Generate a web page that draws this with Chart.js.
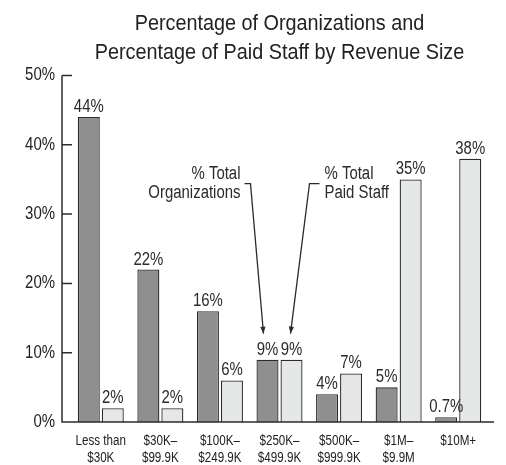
<!DOCTYPE html>
<html>
<head>
<meta charset="utf-8">
<script src="https://cdn.jsdelivr.net/npm/chart.js@4"></script>
<style>
  html, body { margin: 0; padding: 0; background: #fff; }
  #wrap { width: 506px; height: 465px; }
</style>
</head>
<body>
<div id="wrap"><canvas id="chart" width="506" height="465"></canvas></div>
<script>
const titleLines = ["Percentage of Organizations and", "Percentage of Paid Staff by Revenue Size"];
const categories = [
  ["Less than", "$30K"],
  ["$30K–", "$99.9K"],
  ["$100K–", "$249.9K"],
  ["$250K–", "$499.9K"],
  ["$500K–", "$999.9K"],
  ["$1M–", "$9.9M"],
  ["$10M+"]
];
const orgPct   = [44, 22, 16, 9, 4, 5, 0.7];
const staffPct = [2, 2, 6, 9, 7, 35, 38];
const orgLabels   = ["44%", "22%", "16%", "9%", "4%", "5%", "0.7%"];
const staffLabels = ["2%", "2%", "6%", "9%", "7%", "35%", "38%"];
const yTicks = [0, 10, 20, 30, 40, 50];
const seriesNames = ["% Total Organizations", "% Total Paid Staff"];

const FONT = "'Liberation Sans', Arial, sans-serif";
const INK = "#2b2b2b";

function byId(id){ return document.getElementById(id) }

// no narrow face installed -> squeeze Liberation Sans horizontally, like Arial Narrow
function narrowText(ctx) {
  const fill = ctx.fillText.bind(ctx);
  const measure = ctx.measureText.bind(ctx);
  const squeeze = () => (/2\dpx/.test(ctx.font) ? 0.9 : 0.83);
  ctx.fillText = (text, x, y, maxWidth) => {
    const k = squeeze();
    ctx.save();
    ctx.translate(x, y);
    ctx.scale(k, 1);
    if (maxWidth == null) fill(text, 0, 0);
    else fill(text, 0, 0, maxWidth / k);
    ctx.restore();
  };
  ctx.measureText = text => {
    const m = measure(text);
    const k = squeeze();
    return {
      width: m.width * k,
      actualBoundingBoxLeft: m.actualBoundingBoxLeft * k,
      actualBoundingBoxRight: m.actualBoundingBoxRight * k,
      actualBoundingBoxAscent: m.actualBoundingBoxAscent,
      actualBoundingBoxDescent: m.actualBoundingBoxDescent
    };
  };
}

// axis lines + ticks the old-school way, axis sits a bit left of the first bar
const axisPlugin = {
  id: "axes",
  afterDraw(c) {
    const ctx = c.ctx, a = c.chartArea, y = c.scales.y;
    const x0 = a.left - 9;
    ctx.save();
    ctx.strokeStyle = INK;
    ctx.lineWidth = 1.5;
    ctx.beginPath();
    ctx.moveTo(x0, y.getPixelForValue(yTicks[yTicks.length - 1]));
    ctx.lineTo(x0, a.bottom);
    ctx.lineTo(a.right + 6, a.bottom);
    yTicks.forEach(v => {
      const py = y.getPixelForValue(v);
      ctx.moveTo(x0, py);
      ctx.lineTo(x0 + 10, py);
    });
    ctx.stroke();
    ctx.restore();
  }
};

const valueLabels = {
  id: "valueLabels",
  afterDatasetsDraw(c) {
    const ctx = c.ctx;
    const texts = [orgLabels, staffLabels];
    ctx.save();
    ctx.font = `18px ${FONT}`;
    ctx.fillStyle = INK;
    ctx.textAlign = "center";
    ctx.textBaseline = "alphabetic";
    c.data.datasets.forEach((ds, i) => {
      c.getDatasetMeta(i).data.forEach((bar, j) => {
        ctx.fillText(texts[i][j], bar.x, bar.y - 5);
      });
    });
    ctx.restore();
  }
};

function arrow(ctx, pts) {
  ctx.beginPath();
  ctx.moveTo(pts[0][0], pts[0][1]);
  for (let k = 1; k < pts.length; k++) ctx.lineTo(pts[k][0], pts[k][1]);
  ctx.stroke();
  const [ax, ay] = pts[pts.length - 2], [bx, by] = pts[pts.length - 1];
  const ang = Math.atan2(by - ay, bx - ax);
  const L = 7, W = 2.6;
  ctx.beginPath();
  ctx.moveTo(bx, by);
  ctx.lineTo(bx - L * Math.cos(ang) + W * Math.sin(ang), by - L * Math.sin(ang) - W * Math.cos(ang));
  ctx.lineTo(bx - L * Math.cos(ang) - W * Math.sin(ang), by - L * Math.sin(ang) + W * Math.cos(ang));
  ctx.closePath();
  ctx.fill();
}

// callouts pointing at the $250K group in place of a legend
const callouts = {
  id: "callouts",
  afterDraw(c) {
    const ctx = c.ctx;
    const dark = c.getDatasetMeta(0).data[3];
    const light = c.getDatasetMeta(1).data[3];
    const tipY = dark.y - 26;
    const hookY = tipY - 150;
    ctx.save();
    ctx.strokeStyle = INK;
    ctx.fillStyle = INK;
    ctx.lineWidth = 1.3;
    arrow(ctx, [[dark.x - 23, hookY], [dark.x - 17, hookY], [dark.x - 4, tipY]]);
    arrow(ctx, [[light.x + 28, hookY], [light.x + 18, hookY], [light.x - 1, tipY]]);
    ctx.font = `18px ${FONT}`;
    ctx.textBaseline = "middle";
    const [a1, a2] = seriesNames[0].split(/ (?=Organizations)/);
    const [b1, b2] = seriesNames[1].split(/ (?=Paid)/);
    ctx.textAlign = "right";
    ctx.fillText(a1, dark.x - 27, hookY - 10);
    ctx.fillText(a2, dark.x - 27, hookY + 9);
    ctx.textAlign = "left";
    ctx.fillText(b1, light.x + 33, hookY - 10);
    ctx.fillText(b2, light.x + 33, hookY + 9);
    ctx.restore();
  }
};

function init() {
  const canvas = byId("chart");
  narrowText(canvas.getContext("2d"));
  new Chart(canvas, {
    type: "bar",
    data: {
      labels: categories,
      datasets: [
        { label: seriesNames[0], data: orgPct, backgroundColor: "#8f8f8f", borderColor: INK, borderWidth: 1.3 },
        { label: seriesNames[1], data: staffPct, backgroundColor: "#e6e7e7", borderColor: INK, borderWidth: 1.3 }
      ]
    },
    options: {
      responsive: false,
      animation: false,
      categoryPercentage: 0.806,
      barPercentage: 0.917,
      layout: { padding: { left: 0, right: 18, top: 0, bottom: 0 } },
      plugins: {
        legend: { display: false },
        tooltip: { enabled: false },
        title: {
          display: true,
          fullSize: false,
          text: titleLines,
          color: "#222",
          font: { family: FONT, size: 22, weight: "normal", lineHeight: 1.33 },
          padding: { top: 9, bottom: 8 }
        }
      },
      scales: {
        x: {
          offset: true,
          grid: { display: false, drawTicks: false },
          border: { display: false },
          ticks: {
            autoSkip: false, maxRotation: 0, padding: 10,
            color: "#222",
            font: { family: FONT, size: 14, lineHeight: 1.24 }
          },
          afterFit: s => { s.height = 43; }
        },
        y: {
          min: 0, max: 50,
          grid: { display: false, drawTicks: false },
          border: { display: false },
          afterBuildTicks: s => { s.ticks = yTicks.map(v => ({ value: v })); },
          ticks: {
            padding: 16,
            color: "#222",
            font: { family: FONT, size: 18 },
            callback: v => v + "%"
          },
          afterFit: s => { s.width = 71; }
        }
      }
    },
    plugins: [axisPlugin, valueLabels, callouts]
  });
}

document.addEventListener("DOMContentLoaded", init);
</script>
</body>
</html>
